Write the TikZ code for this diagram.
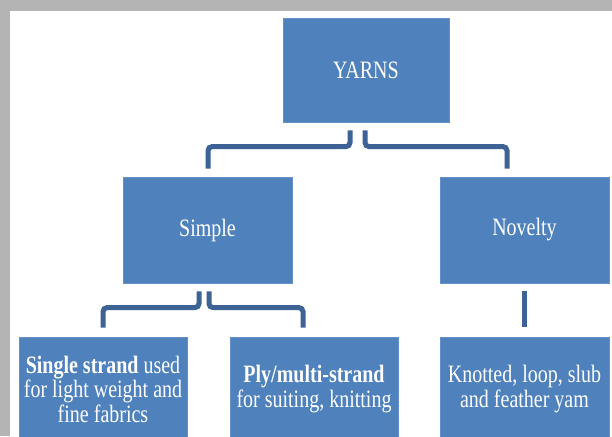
\documentclass[tikz,border=0pt]{standalone}
\usepackage{fontspec}
\setmainfont{Liberation Serif}[FakeStretch=0.8]
\usetikzlibrary{calc}
\definecolor{boxblue}{RGB}{79,129,189}
\definecolor{boxedge}{RGB}{100,146,200}
\definecolor{linkblue}{RGB}{60,98,150}
\definecolor{framegray}{RGB}{180,180,180}
\begin{document}
\begin{tikzpicture}[x=1pt,y=-1pt,
  box/.style={fill=boxblue, draw=boxedge, line width=0.8pt, inner sep=0pt,
    text=white, align=center, font=\fontsize{25}{24.5}\selectfont},
  link/.style={draw=linkblue, line width=5pt, rounded corners=4pt}]
\useasboundingbox (0,0) rectangle (612,436);
\fill[white] (0,0) rectangle (612,436);
\fill[framegray] (0,0) rectangle (612,11);
\fill[framegray] (0,0) rectangle (10,436);
\begin{scope}
\clip (0,0) rectangle (612,436);
\node[box, minimum width=166pt, minimum height=104pt] (yarns) at (366,70) {YARNS};
\node[box, minimum width=169pt, minimum height=106pt] (simple) at (207.5,230) {Simple};
\node[box, minimum width=169pt, minimum height=106pt] (novelty) at (524.5,230) {Novelty};
\node[box, minimum width=168pt, minimum height=104pt] (single) at (103,389) {{\bfseries Single strand} used\\for light weight and\\fine fabrics};
\node[box, minimum width=168pt, minimum height=104pt] (ply) at (314,389) {{\bfseries Ply/multi-strand}\\for suiting, knitting};
\node[box, minimum width=169pt, minimum height=104pt] (knotted) at (524.5,389) {Knotted, loop, slub\\and feather yam};
\draw[link] ($(yarns.south)+(-16,8)$) |- ($(simple.north)+(0.5,-30)$) -- ($(simple.north)+(0.5,-8)$);
\draw[link] ($(yarns.south)+(-1,8)$) |- ($(novelty.north)+(-17.5,-30)$) -- ($(novelty.north)+(-17.5,-8)$);
\draw[link] ($(simple.south)+(-8.5,8)$) |- ($(single.north)+(0,-29)$) -- ($(single.north)+(0,-9)$);
\draw[link] ($(simple.south)+(1.5,8)$) |- ($(ply.north)+(-11,-29)$) -- ($(ply.north)+(-11,-9)$);
\draw[link] ($(novelty.south)+(0,8)$) -- ($(knotted.north)+(0,-10)$);
\end{scope}
\end{tikzpicture}
\end{document}
